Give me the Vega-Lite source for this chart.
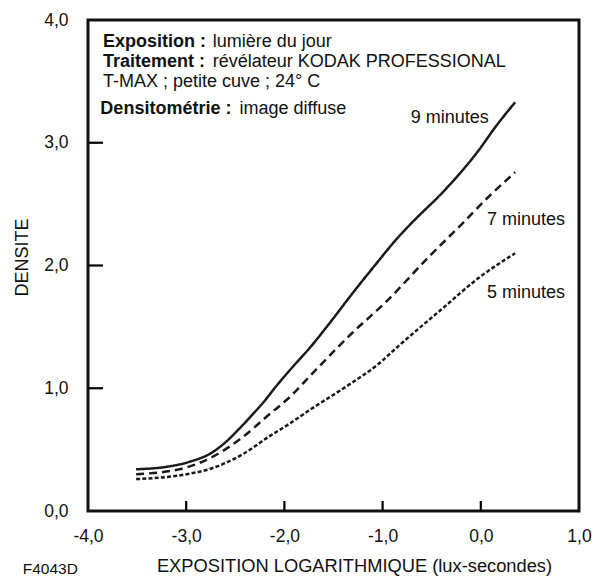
{
  "$schema": "https://vega.github.io/schema/vega-lite/v6.json",
  "autosize": {"type": "none"},
  "padding": {"left": 88, "top": 20, "right": 17, "bottom": 68},
  "width": 491,
  "height": 491,
  "background": "white",
  "config": {
    "font": "Liberation Sans",
    "view": {"stroke": "#111111", "strokeWidth": 3},
    "axis": {"grid": false, "domain": false, "ticks": false, "labelFont": "Liberation Sans", "titleFont": "Liberation Sans", "labelColor": "#111111", "titleColor": "#111111", "titleFontWeight": "normal"}
  },
  "datasets": {
    "curves": [
      {"logE": -3.51, "density": 0.34, "series": "9 minutes"},
      {"logE": -3.2, "density": 0.36, "series": "9 minutes"},
      {"logE": -2.97, "density": 0.4, "series": "9 minutes"},
      {"logE": -2.73, "density": 0.48, "series": "9 minutes"},
      {"logE": -2.6, "density": 0.56, "series": "9 minutes"},
      {"logE": -2.46, "density": 0.67, "series": "9 minutes"},
      {"logE": -2.32, "density": 0.79, "series": "9 minutes"},
      {"logE": -2.22, "density": 0.88, "series": "9 minutes"},
      {"logE": -2.07, "density": 1.03, "series": "9 minutes"},
      {"logE": -1.92, "density": 1.17, "series": "9 minutes"},
      {"logE": -1.73, "density": 1.34, "series": "9 minutes"},
      {"logE": -1.54, "density": 1.53, "series": "9 minutes"},
      {"logE": -1.31, "density": 1.77, "series": "9 minutes"},
      {"logE": -1.1, "density": 1.98, "series": "9 minutes"},
      {"logE": -0.83, "density": 2.24, "series": "9 minutes"},
      {"logE": -0.7, "density": 2.35, "series": "9 minutes"},
      {"logE": -0.36, "density": 2.62, "series": "9 minutes"},
      {"logE": -0.02, "density": 2.94, "series": "9 minutes"},
      {"logE": 0.15, "density": 3.13, "series": "9 minutes"},
      {"logE": 0.35, "density": 3.33, "series": "9 minutes"},
      {"logE": -3.51, "density": 0.3, "series": "7 minutes"},
      {"logE": -3.07, "density": 0.34, "series": "7 minutes"},
      {"logE": -2.76, "density": 0.43, "series": "7 minutes"},
      {"logE": -2.46, "density": 0.58, "series": "7 minutes"},
      {"logE": -2.15, "density": 0.79, "series": "7 minutes"},
      {"logE": -1.97, "density": 0.91, "series": "7 minutes"},
      {"logE": -1.68, "density": 1.15, "series": "7 minutes"},
      {"logE": -1.31, "density": 1.45, "series": "7 minutes"},
      {"logE": -0.97, "density": 1.7, "series": "7 minutes"},
      {"logE": -0.53, "density": 2.07, "series": "7 minutes"},
      {"logE": -0.19, "density": 2.34, "series": "7 minutes"},
      {"logE": 0.08, "density": 2.56, "series": "7 minutes"},
      {"logE": 0.35, "density": 2.76, "series": "7 minutes"},
      {"logE": -3.51, "density": 0.26, "series": "5 minutes"},
      {"logE": -3.07, "density": 0.29, "series": "5 minutes"},
      {"logE": -2.73, "density": 0.35, "series": "5 minutes"},
      {"logE": -2.43, "density": 0.46, "series": "5 minutes"},
      {"logE": -2.15, "density": 0.61, "series": "5 minutes"},
      {"logE": -1.97, "density": 0.7, "series": "5 minutes"},
      {"logE": -1.71, "density": 0.84, "series": "5 minutes"},
      {"logE": -1.34, "density": 1.03, "series": "5 minutes"},
      {"logE": -1.04, "density": 1.2, "series": "5 minutes"},
      {"logE": -0.83, "density": 1.35, "series": "5 minutes"},
      {"logE": -0.39, "density": 1.65, "series": "5 minutes"},
      {"logE": -0.02, "density": 1.9, "series": "5 minutes"},
      {"logE": 0.35, "density": 2.1, "series": "5 minutes"}
    ],
    "xTicks": [{"logE": -3}, {"logE": -2}, {"logE": -1}, {"logE": 0}],
    "yTicks": [{"density": 1}, {"density": 2}, {"density": 3}],
    "boldNotes": [
      {"logE": -3.848, "density": 3.817, "text": "Exposition :"},
      {"logE": -3.848, "density": 3.659, "text": "Traitement :"},
      {"logE": -3.874, "density": 3.279, "text": "Densitométrie :"}
    ],
    "plainNotes": [
      {"logE": -2.73, "density": 3.817, "text": "lumière du jour"},
      {"logE": -2.73, "density": 3.659, "text": "révélateur KODAK PROFESSIONAL"},
      {"logE": -3.848, "density": 3.496, "text": "T-MAX ; petite cuve ; 24° C"},
      {"logE": -2.458, "density": 3.279, "text": "image diffuse"},
      {"logE": -0.713, "density": 3.2, "text": "9 minutes"},
      {"logE": 0.062, "density": 2.37, "text": "7 minutes"},
      {"logE": 0.062, "density": 1.775, "text": "5 minutes"}
    ],
    "code": [
      {"logE": -4.384, "density": -0.47, "text": "F4043D"}
    ]
  },
  "layer": [
    {
      "data": {"name": "curves"},
      "mark": {"type": "line", "interpolate": "monotone", "strokeWidth": 2.5, "color": "#1a1a1a", "strokeCap": "butt"},
      "encoding": {
        "x": {
          "field": "logE", "type": "quantitative",
          "scale": {"domain": [-4, 1], "nice": false, "zero": false},
          "axis": {
            "values": [-4, -3, -2, -1, 0, 1],
            "title": "EXPOSITION LOGARITHMIQUE (lux-secondes)",
            "titleFontSize": 18.3,
            "titleX": 266,
            "titleY": 55,
            "titleBaseline": "middle",
            "titleAnchor": null,
            "labelExpr": "replace(replace(format(datum.value, '.1f'), '.', ','), '\u2212', '-')",
            "labelFontSize": 17.5,
            "labelPadding": 16,
            "labelDx": -7,
            "labelBaseline": "top",
            "labelFlush": false,
            "labelBound": false,
            "labelOverlap": false
          }
        },
        "y": {
          "field": "density", "type": "quantitative",
          "scale": {"domain": [0, 4], "nice": false},
          "axis": {
            "values": [0, 1, 2, 3, 4],
            "title": "DENSITE",
            "titleFontSize": 18,
            "titleAngle": -90,
            "titleX": -66,
            "titleY": 237,
            "titleBaseline": "middle",
            "titleAlign": "center",
            "titleAnchor": null,
            "labelExpr": "replace(format(datum.value, '.1f'), '.', ',')",
            "labelFontSize": 17.5,
            "labelPadding": 20,
            "labelFlush": false,
            "labelBound": false,
            "labelOverlap": false
          }
        },
        "detail": {"field": "series", "type": "nominal"},
        "strokeDash": {
          "field": "series", "type": "nominal",
          "scale": {"domain": ["9 minutes", "7 minutes", "5 minutes"], "range": [[1, 0], [8, 5], [4, 2.2]]},
          "legend": null
        }
      }
    },
    {
      "data": {"name": "xTicks"},
      "mark": {"type": "tick", "orient": "vertical", "size": 20, "thickness": 2.2, "color": "#000000", "opacity": 1, "clip": true},
      "encoding": {
        "x": {"field": "logE", "type": "quantitative"},
        "y": {"datum": 0, "type": "quantitative"}
      }
    },
    {
      "data": {"name": "yTicks"},
      "mark": {"type": "tick", "orient": "horizontal", "size": 30, "thickness": 2.2, "color": "#000000", "opacity": 1, "clip": true},
      "encoding": {
        "x": {"datum": -4, "type": "quantitative"},
        "y": {"field": "density", "type": "quantitative"}
      }
    },
    {
      "data": {"name": "boldNotes"},
      "mark": {"type": "text", "align": "left", "baseline": "middle", "fontSize": 18, "fontWeight": "bold", "color": "#111111"},
      "encoding": {
        "x": {"field": "logE", "type": "quantitative"},
        "y": {"field": "density", "type": "quantitative"},
        "text": {"field": "text"}
      }
    },
    {
      "data": {"name": "plainNotes"},
      "mark": {"type": "text", "align": "left", "baseline": "middle", "fontSize": 18, "color": "#111111"},
      "encoding": {
        "x": {"field": "logE", "type": "quantitative"},
        "y": {"field": "density", "type": "quantitative"},
        "text": {"field": "text"}
      }
    },
    {
      "data": {"name": "code"},
      "mark": {"type": "text", "align": "center", "baseline": "middle", "fontSize": 15.5, "color": "#111111", "clip": false},
      "encoding": {
        "x": {"field": "logE", "type": "quantitative"},
        "y": {"field": "density", "type": "quantitative"},
        "text": {"field": "text"}
      }
    }
  ]
}
